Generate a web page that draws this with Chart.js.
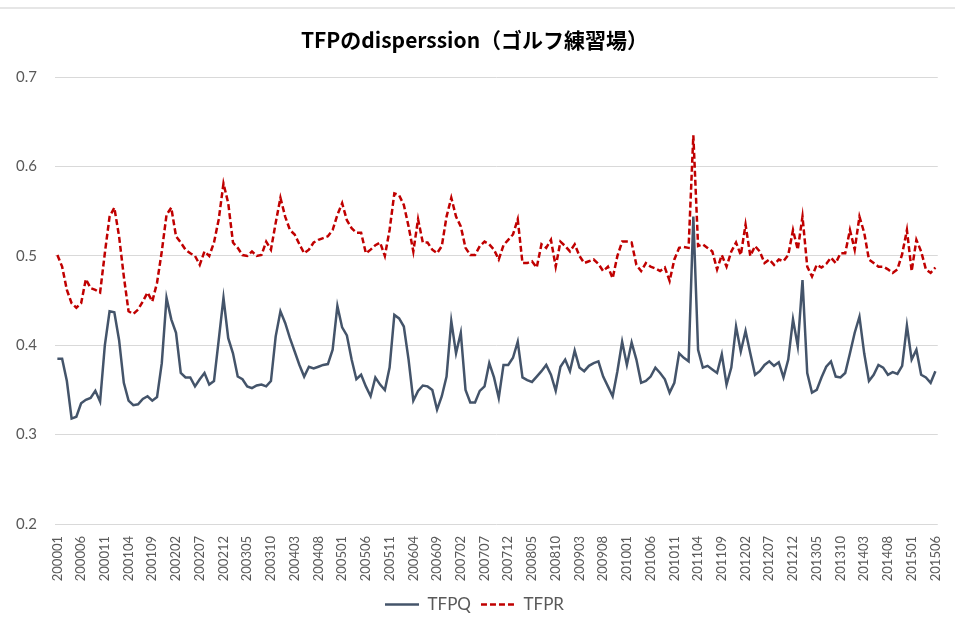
<!DOCTYPE html>
<html>
<head>
<meta charset="utf-8">
<script src="https://cdn.jsdelivr.net/npm/chart.js@4"></script>
<style>
  html, body { margin: 0; padding: 0; background: #fff; }
  #wrap { width: 955px; height: 628px; position: relative; }
  #topline { position: absolute; left: 0; top: 7px; width: 955px; height: 2px; background: #e6e6e6; }
</style>
</head>
<body>
<div id="wrap"><div id="topline"></div><canvas id="chart-tfp"></canvas></div>
<script>
// months 200001 .. 201506
var months = [];
for (var y = 2000; y <= 2015; y++) {
    for (var m = 1; m <= 12; m++) {
        if (y === 2015 && m > 6) break;
        months.push(y + (m < 10 ? '0' : '') + m);
    }
}

var tfpq = [
    0.385, 0.385, 0.360, 0.318, 0.320, 0.335, 0.339, 0.341, 0.349, 0.337, 0.400, 0.438,
    0.437, 0.406, 0.358, 0.338, 0.333, 0.334, 0.340, 0.343, 0.338, 0.342, 0.380, 0.453,
    0.429, 0.414, 0.369, 0.364, 0.364, 0.354, 0.362, 0.369, 0.356, 0.360, 0.406, 0.453,
    0.408, 0.391, 0.365, 0.362, 0.354, 0.352, 0.355, 0.356, 0.354, 0.360, 0.410, 0.438,
    0.425, 0.408, 0.393, 0.378, 0.365, 0.376, 0.374, 0.376, 0.378, 0.379, 0.395, 0.444,
    0.420, 0.411, 0.384, 0.362, 0.367, 0.354, 0.343, 0.364, 0.356, 0.350, 0.375, 0.434,
    0.430, 0.421, 0.384, 0.338, 0.349, 0.355, 0.354, 0.350, 0.328, 0.343, 0.365, 0.427,
    0.391, 0.414, 0.350, 0.336, 0.336, 0.349, 0.354, 0.380, 0.364, 0.341, 0.378, 0.378,
    0.386, 0.404, 0.364, 0.361, 0.359, 0.365, 0.371, 0.378, 0.367, 0.349, 0.376, 0.384,
    0.371, 0.394, 0.375, 0.371, 0.377, 0.380, 0.382, 0.365, 0.354, 0.343, 0.371, 0.404,
    0.378, 0.403, 0.384, 0.358, 0.360, 0.365, 0.375, 0.369, 0.362, 0.347, 0.358, 0.391,
    0.386, 0.382, 0.544, 0.395, 0.375, 0.377, 0.373, 0.369, 0.390, 0.356, 0.375, 0.421,
    0.393, 0.416, 0.391, 0.367, 0.371, 0.378, 0.382, 0.377, 0.381, 0.364, 0.384, 0.429,
    0.399, 0.473, 0.369, 0.347, 0.350, 0.364, 0.376, 0.382, 0.365, 0.364, 0.369, 0.391,
    0.414, 0.432, 0.391, 0.360, 0.367, 0.378, 0.375, 0.367, 0.370, 0.368, 0.377, 0.422,
    0.384, 0.395, 0.367, 0.364, 0.358, 0.371
];

var tfpr = [
    0.501, 0.488, 0.462, 0.447, 0.442, 0.447, 0.474, 0.464, 0.462, 0.459, 0.503, 0.544,
    0.554, 0.522, 0.477, 0.438, 0.435, 0.440, 0.449, 0.459, 0.449, 0.470, 0.505, 0.546,
    0.554, 0.522, 0.515, 0.507, 0.503, 0.500, 0.490, 0.505, 0.500, 0.515, 0.541, 0.581,
    0.559, 0.515, 0.509, 0.501, 0.500, 0.505, 0.500, 0.501, 0.516, 0.507, 0.537, 0.565,
    0.544, 0.529, 0.524, 0.513, 0.503, 0.507, 0.515, 0.518, 0.520, 0.522, 0.529, 0.546,
    0.559, 0.540, 0.531, 0.526, 0.526, 0.503, 0.507, 0.512, 0.515, 0.500, 0.529, 0.570,
    0.568, 0.557, 0.533, 0.505, 0.541, 0.515, 0.515, 0.507, 0.503, 0.511, 0.544, 0.565,
    0.544, 0.533, 0.509, 0.501, 0.501, 0.511, 0.516, 0.513, 0.507, 0.496, 0.512, 0.518,
    0.524, 0.541, 0.492, 0.492, 0.494, 0.487, 0.513, 0.509, 0.518, 0.488, 0.516, 0.511,
    0.505, 0.513, 0.500, 0.492, 0.494, 0.496, 0.491, 0.483, 0.488, 0.475, 0.500, 0.516,
    0.516, 0.515, 0.490, 0.483, 0.492, 0.488, 0.486, 0.483, 0.487, 0.472, 0.496, 0.509,
    0.510, 0.509, 0.635, 0.511, 0.513, 0.509, 0.505, 0.485, 0.501, 0.488, 0.505, 0.515,
    0.501, 0.535, 0.500, 0.511, 0.505, 0.492, 0.496, 0.490, 0.496, 0.494, 0.501, 0.529,
    0.507, 0.544, 0.488, 0.477, 0.490, 0.487, 0.491, 0.498, 0.492, 0.503, 0.503, 0.529,
    0.507, 0.544, 0.526, 0.496, 0.492, 0.488, 0.488, 0.485, 0.481, 0.485, 0.502, 0.529,
    0.483, 0.518, 0.505, 0.485, 0.481, 0.487
];

var yTicks = [0.2, 0.3, 0.4, 0.5, 0.6, 0.7];
var labelEvery = 5;

var grey = '#595959';

new Chart(document.getElementById('chart-tfp'), {
    type: 'line',
    data: {
        labels: months,
        datasets: [{
            label: 'TFPQ',
            data: tfpq,
            borderColor: '#44546A',
            backgroundColor: '#44546A',
            borderWidth: 2.5,
            pointRadius: 0,
            tension: 0
        }, {
            label: 'TFPR',
            data: tfpr,
            borderColor: '#C00000',
            backgroundColor: '#C00000',
            borderWidth: 2.5,
            borderDash: [6, 3],
            pointRadius: 0,
            tension: 0
        }]
    },
    options: {
        responsive: true,
        maintainAspectRatio: false,
        animation: false,
        layout: { padding: { left: 0, right: 6, top: 0, bottom: 5 } },
        plugins: {
            title: {
                display: true,
                text: 'TFPのdisperssion（ゴルフ練習場）',
                color: '#000',
                font: { family: '"Noto Sans CJK JP"', size: 21, weight: 'bold' },
                padding: { top: 27, bottom: 25 }
            },
            legend: {
                position: 'bottom',
                labels: {
                    color: grey,
                    font: { family: 'Lato', size: 17 },
                    usePointStyle: true,
                    pointStyle: 'line',
                    pointStyleWidth: 34,
                    padding: 10,
                    // legend lines take dash and width from the dataset line
                    generateLabels: function(chart) {
                        var items = Chart.defaults.plugins.legend.labels.generateLabels(chart);
                        items.forEach(function(it) {
                            var ds = chart.data.datasets[it.datasetIndex];
                            it.lineDash = ds.borderDash || [];
                            it.lineWidth = ds.borderWidth;
                            it.strokeStyle = ds.borderColor;
                        });
                        return items;
                    }
                }
            },
            tooltip: { enabled: false }
        },
        scales: {
            y: {
                min: 0.2,
                max: 0.7,
                afterFit: function(scale) { scale.width = 55; },
                afterBuildTicks: function(scale) {
                    scale.ticks = yTicks.map(function(v) { return { value: v }; });
                },
                ticks: {
                    color: grey,
                    font: { family: 'Lato', size: 15 },
                    padding: 18,
                    callback: function(v) { return v.toFixed(1); }
                },
                grid: { color: '#d9d9d9', lineWidth: 1, drawTicks: false },
                border: { display: false }
            },
            x: {
                offset: true,
                afterFit: function(scale) { scale.height = 62; },
                ticks: {
                    color: grey,
                    font: { family: 'Lato', size: 13 },
                    autoSkip: false,
                    minRotation: 90,
                    maxRotation: 90,
                    padding: 4,
                    callback: function(v, i) { return i % labelEvery === 0 ? months[i] : ''; }
                },
                grid: { display: false },
                border: { display: false }
            }
        }
    }
});
</script>
</body>
</html>
